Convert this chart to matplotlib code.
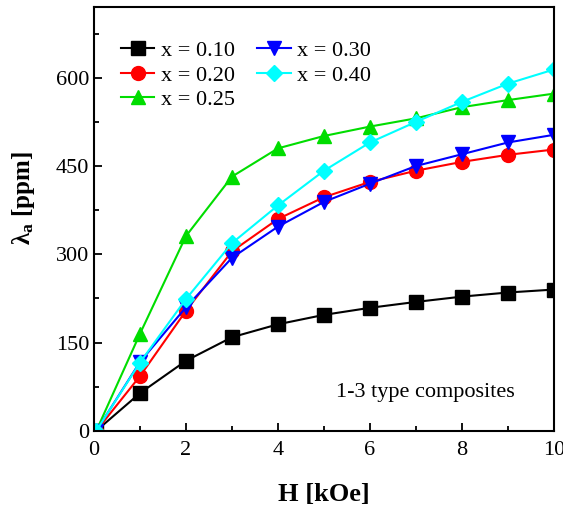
import matplotlib
matplotlib.use("Agg")
import matplotlib.pyplot as plt
from matplotlib.ticker import MultipleLocator

plt.rcParams['font.family'] = ['Liberation Serif', 'DejaVu Serif']
plt.rcParams['mathtext.fontset'] = 'custom'
plt.rcParams['mathtext.rm'] = 'Liberation Serif'
plt.rcParams['mathtext.bf'] = 'Liberation Serif:bold'

# field values (kOe)
H = [0.05, 1, 2, 3, 4, 5, 6, 7, 8, 9, 10]

# magnetostriction (ppm) per composition
lam_010 = [0, 64, 119, 159, 181, 197, 209, 219, 228, 235, 240]
lam_020 = [0, 93, 204, 305, 360, 397, 423, 442, 457, 469, 478]
lam_025 = [0, 165, 331, 432, 480, 501, 517, 531, 550, 562, 573]
lam_030 = [0, 117, 210, 294, 347, 389, 420, 450, 470, 490, 503]
lam_040 = [0, 116, 224, 319, 383, 442, 490, 525, 559, 590, 614]

series = [
    ('x = 0.10', lam_010, 'black', 's'),
    ('x = 0.20', lam_020, 'red', 'o'),
    ('x = 0.25', lam_025, '#00dd00', '^'),
    ('x = 0.30', lam_030, 'blue', 'v'),
    ('x = 0.40', lam_040, 'cyan', 'D'),
]

fig = plt.figure(figsize=(5.63, 5.08), dpi=100)
ax = fig.add_axes([0.167, 0.152, 0.817, 0.834])

for label, vals, color, marker in series:
    ms = 8.5 if marker == 'D' else 10
    ax.plot(H, vals, color=color, marker=marker, markersize=ms,
            linewidth=1.5, label=label)

ax.set_xlim(0, 10)
ax.set_ylim(0, 720)
ax.xaxis.set_major_locator(MultipleLocator(2))
ax.xaxis.set_minor_locator(MultipleLocator(1))
ax.yaxis.set_major_locator(MultipleLocator(150))
ax.yaxis.set_minor_locator(MultipleLocator(75))
ax.tick_params(which='both', direction='in', labelsize=16, width=1.3)
ax.tick_params(which='major', length=6)
ax.tick_params(which='minor', length=3.5)
ax.tick_params(axis='x', pad=7)
for sp in ax.spines.values():
    sp.set_linewidth(1.5)

ax.set_xlabel('H [kOe]', fontsize=19, fontweight='bold', labelpad=17)
ax.set_ylabel(r'$\mathbf{\lambda_a}$ [ppm]', fontsize=18, fontweight='bold')
ax.yaxis.set_label_coords(-0.125, 0.55)

ax.legend(ncol=2, frameon=False, fontsize=16, loc='upper left',
          bbox_to_anchor=(0.02, 0.963), handlelength=1.5, handletextpad=0.3,
          columnspacing=1.0, labelspacing=0.18, borderaxespad=0.4)

ax.text(0.72, 0.09, '1-3 type composites', transform=ax.transAxes,
        fontsize=16, ha='center', va='center')

fig.savefig('out.png', dpi=100)
